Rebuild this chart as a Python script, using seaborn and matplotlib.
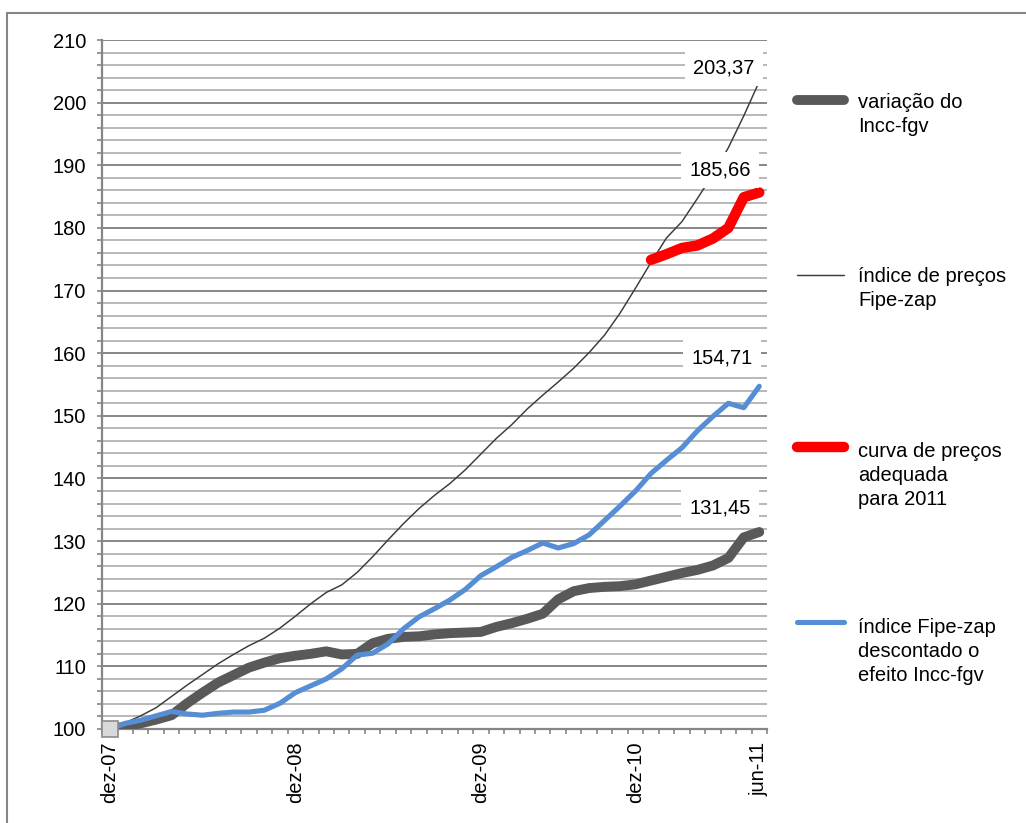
import numpy as np
import pandas as pd
import matplotlib
matplotlib.use("Agg")
import matplotlib.pyplot as plt
import seaborn as sns
from matplotlib.lines import Line2D
from matplotlib.patches import Rectangle
from matplotlib.ticker import MultipleLocator, FixedLocator, NullFormatter

# ---- data (monthly index, base dez-07 = 100) ----
periods = np.arange(43)
tick_positions = [0, 12, 24, 34, 42]
tick_labels = ["dez-07", "dez-08", "dez-09", "dez-10", "jun-11"]

incc_fgv = [100.0, 100.4, 100.9, 101.5, 102.2, 104.1, 105.8, 107.4, 108.6, 109.8,
            110.6, 111.3, 111.7, 112.0, 112.4, 111.9, 112.0, 113.7, 114.4, 114.7,
            114.8, 115.1, 115.3, 115.4, 115.5, 116.3, 116.9, 117.6, 118.4, 120.7,
            122.0, 122.5, 122.7, 122.8, 123.1, 123.7, 124.3, 124.9, 125.4, 126.1,
            127.3, 130.6, 131.45]

fipe_zap = [100.0, 101.0, 102.1, 103.4, 105.2, 107.0, 108.7, 110.4, 111.9, 113.3,
            114.5, 116.1, 118.0, 120.0, 121.8, 123.0, 125.0, 127.5, 130.2, 132.8,
            135.2, 137.3, 139.2, 141.4, 143.9, 146.4, 148.6, 151.1, 153.3, 155.4,
            157.6, 160.1, 162.9, 166.4, 170.4, 174.5, 178.4, 181.0, 184.7, 188.5,
            192.8, 197.9, 203.37]

curva_2011 = [np.nan] * 35 + [174.9, 175.8, 176.8, 177.2, 178.3, 180.0, 184.9, 185.66]

fipe_zap_desc = [100.0, 100.9, 101.4, 102.1, 102.8, 102.4, 102.2, 102.5, 102.7, 102.7,
                 103.0, 104.1, 105.8, 106.9, 108.0, 109.6, 111.8, 112.1, 113.6, 116.0,
                 117.9, 119.2, 120.6, 122.3, 124.5, 125.9, 127.4, 128.5, 129.7, 128.9,
                 129.6, 131.0, 133.3, 135.6, 138.0, 140.8, 142.9, 144.9, 147.6, 149.9,
                 152.0, 151.3, 154.71]

series_labels = ["variação do\nIncc-fgv",
                 "índice de preços\nFipe-zap",
                 "curva de preços\nadequada\npara 2011",
                 "índice Fipe-zap\ndescontado o\nefeito Incc-fgv"]

df = pd.DataFrame({"periodo": periods, "incc": incc_fgv, "fipe": fipe_zap,
                   "curva": curva_2011, "desc": fipe_zap_desc})

# ---- styling ----
sns.set_theme(style="white")
plt.rcParams["font.family"] = ["Liberation Sans", "DejaVu Sans"]
FS = 14.5
GRID_MAJ = "#868686"
GRID_MIN = "#b8b8b8"

W, H = 1026, 823
fig = plt.figure(figsize=(W / 100, H / 100), dpi=100)
ax = fig.add_axes([102 / W, 94 / H, 665 / W, 689 / H])

styles = [
    ("incc", "#595959", 7.1),
    ("fipe", "#3a3a3a", 1.05),
    ("curva", "#ff0000", 7.5),
    ("desc", "#558ed5", 3.7),
]
for z, (col, color, lw) in enumerate(styles):
    sns.lineplot(data=df, x="periodo", y=col, ax=ax, color=color, linewidth=lw,
                 solid_capstyle="round", solid_joinstyle="round", zorder=3 + z)

# starting point marker
ax.plot(df["periodo"].iloc[0], df["incc"].iloc[0], marker="s", markersize=11,
        markerfacecolor="#d9d9d9", markeredgecolor="#8c8c8c", markeredgewidth=1.2,
        zorder=9, clip_on=False)

# axes limits / ticks
ax.set_xlim(-0.5, 42.5)
ax.set_ylim(100, 210)
ax.set_xlabel("")
ax.set_ylabel("")

ax.yaxis.set_major_locator(MultipleLocator(10))
ax.yaxis.set_minor_locator(MultipleLocator(2))
ax.yaxis.set_minor_formatter(NullFormatter())
ax.grid(which="major", axis="y", color=GRID_MAJ, linewidth=1.4)
ax.grid(which="minor", axis="y", color=GRID_MIN, linewidth=1.4)
ax.grid(False, axis="x")
ax.set_axisbelow(True)

ax.xaxis.set_major_locator(FixedLocator(tick_positions))
ax.set_xticklabels(tick_labels, rotation=90)
ax.xaxis.set_minor_locator(FixedLocator(np.arange(-0.5, 43, 1)))

ax.tick_params(axis="y", which="both", left=True, direction="out", length=3.6,
               width=1.2, color=GRID_MAJ, labelsize=FS, pad=8, labelcolor="black")
ax.tick_params(axis="x", which="minor", bottom=True, direction="out", length=3.6,
               width=1.2, color=GRID_MAJ)
ax.tick_params(axis="x", which="major", bottom=True, length=0, labelsize=FS,
               pad=9, labelcolor="black")

for side in ["top", "right"]:
    ax.spines[side].set_visible(False)
for side in ["left", "bottom"]:
    ax.spines[side].set_color(GRID_MAJ)
    ax.spines[side].set_linewidth(1.6)

# end-value labels
end_labels = [("fipe", -2.3, 2.1), ("curva", -2.55, 3.6),
              ("desc", -2.4, 4.6), ("incc", -2.55, 3.9)]
for col, dx, dy in end_labels:
    v = df[col].iloc[-1]
    ax.text(df["periodo"].iloc[-1] + dx, v + dy, f"{v:.2f}".replace(".", ","),
            ha="center", va="center", fontsize=FS, color="black", zorder=10,
            bbox=dict(boxstyle="square,pad=0.42", fc="white", ec="none"))

# legend on the right
def fx(px):
    return px / W

def fy(py):
    return 1 - py / H

LINE_STEP = 24
legend_rows = [(100, 108), (275, 282), (447, 457), (622, 633)]
for (hy, ty), (col, color, lw), label in zip(legend_rows, styles, series_labels):
    fig.add_artist(Line2D([fx(797), fx(844)], [fy(hy), fy(hy)], color=color,
                          linewidth=lw, solid_capstyle="round",
                          transform=fig.transFigure))
    for k, line in enumerate(label.split("\n")):
        fig.text(fx(858), fy(ty + k * LINE_STEP), line, ha="left", va="baseline",
                 fontsize=FS, color="black")

# outer chart frame
fig.add_artist(Rectangle((fx(7), -0.05), 1.2, fy(13) + 0.05, transform=fig.transFigure,
                         fill=False, edgecolor=GRID_MAJ, linewidth=1.5))

fig.savefig("out.png", dpi=100)
